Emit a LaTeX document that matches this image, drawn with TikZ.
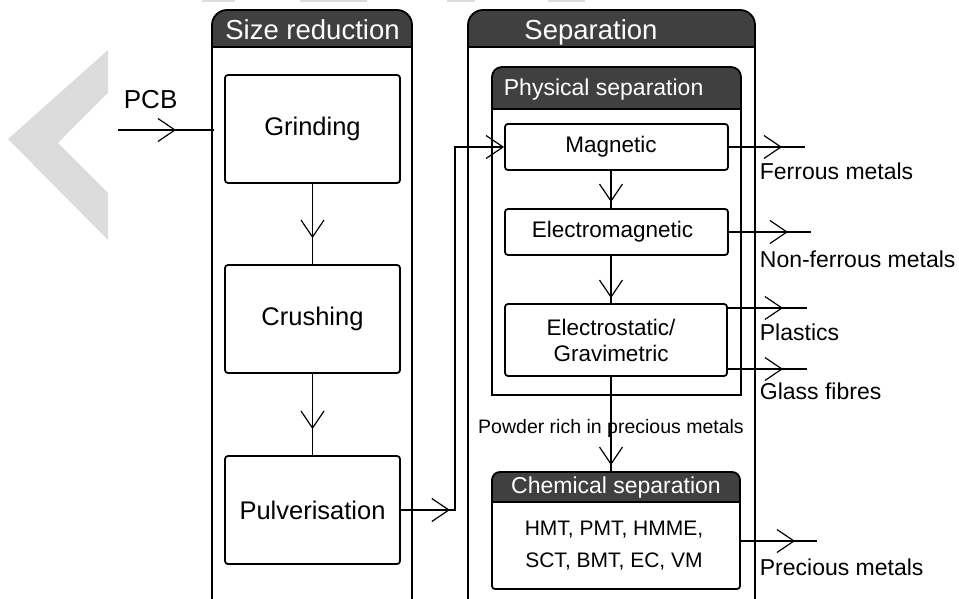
\documentclass[tikz,border=0pt]{standalone}
\usepackage{fontspec}
\setmainfont{Liberation Sans}
\usetikzlibrary{arrows.meta,decorations.markings}
\definecolor{hdr}{HTML}{404040}
\definecolor{wm}{HTML}{DCDCDC}
\begin{document}
\begin{tikzpicture}[x=1pt,y=-1pt,line width=1.8pt,
  box/.style={draw, rounded corners=3pt, inner sep=0pt, align=center},
  fbig/.style={font=\fontsize{25.5pt}{30pt}\selectfont},
  fmed/.style={font=\fontsize{22.5pt}{26pt}\selectfont},
  fhdr/.style={font=\fontsize{27.5pt}{32pt}\selectfont, text=white, inner sep=0pt, anchor=base},
  fhdrs/.style={font=\fontsize{23pt}{28pt}\selectfont, text=white, inner sep=0pt},
  lbl/.style={font=\fontsize{23pt}{28pt}\selectfont, inner sep=0pt, anchor=base west},
  tipat/.style={postaction={decorate, decoration={markings, mark=at position -#1 with {\arrow{Straight Barb[length=17pt,width=23pt,line width=1.2pt]}}}}},
  tipfrom/.style={postaction={decorate, decoration={markings, mark=at position #1 with {\arrow{Straight Barb[length=17pt,width=23pt,line width=1.2pt]}}}}},
  endbarb/.style={-{Straight Barb[length=17pt,width=23pt,line width=1.2pt]}}
]
\useasboundingbox (0,0) rectangle (959,599);

% watermark
\fill[wm] (108,50) -- (8,139) -- (108,240) -- (108,193) -- (58,143) -- (108,93) -- cycle;
\fill[wm] (202,0) rectangle (235,2.5);
\fill[wm] (300,0) rectangle (367,2.5);
\fill[wm] (447,0) rectangle (475,2.5);
\fill[wm] (548,0) rectangle (585,2.5);

% Size reduction container
\begin{scope}\clip (212,10) rectangle (412,47);\fill[hdr,rounded corners=15pt] (212,10) rectangle (412,80);\end{scope}
\draw[rounded corners=15pt] (212,600) -- (212,10) -- (412,10) -- (412,600);
\draw (212,47) -- (412,47);

% Separation container
\begin{scope}\clip (468,10) rectangle (755,47);\fill[hdr,rounded corners=15pt] (468,10) rectangle (755,80);\end{scope}
\draw[rounded corners=15pt] (468,600) -- (468,10) -- (755,10) -- (755,600);
\draw (468,47) -- (755,47);

% Physical separation container
\begin{scope}\clip (492,67) rectangle (741,109);\fill[hdr,rounded corners=10pt] (492,67) rectangle (741,130);\end{scope}
\draw[rounded corners=10pt] (492,395) -- (492,67) -- (741,67) -- (741,395);
\draw[line cap=rect] (492,395) -- (741,395);
\draw (492,109) -- (741,109);

% Chemical separation container
\begin{scope}\clip (492,472) rectangle (740,502);\fill[hdr,rounded corners=8pt] (492,472) rectangle (740,520);\end{scope}
\draw[rounded corners=8pt] (492,500) -- (492,472) -- (740,472) -- (740,500);
\draw[rounded corners=3pt] (492,490) -- (492,589) -- (740,589) -- (740,490);
\draw (492,502) -- (740,502);

% header texts
\node[fhdr] (srhd) at (312.5,40) {Size reduction};
\node[fhdr] (sephd) at (591,40) {Separation};
\node[fhdrs, anchor=base west] (phhd) at (503,96) {Physical separation};
\node[fhdrs, minimum width=248pt, minimum height=30pt] (chemhd) at (616,487) {};
\node[fhdrs, anchor=base] (chemtxt) at (616,493.5) {Chemical separation};

% process boxes
\node[box, fbig, minimum width=175pt, minimum height=108pt] (grind) at (312.5,129) {Grinding};
\node[box, fbig, minimum width=175pt, minimum height=108pt] (crush) at (312.5,319) {Crushing};
\node[box, fbig, minimum width=175pt, minimum height=108pt] (pulv) at (312.5,510) {Pulverisation};
\node[box, fmed, minimum width=223pt, minimum height=46pt] (mag) at (616.5,147) {Magnetic\hspace*{11pt}};
\node[box, fmed, minimum width=223pt, minimum height=46pt] (emag) at (616.5,232) {Electromagnetic\hspace*{8pt}};
\node[box, fmed, minimum width=222pt, minimum height=72pt] (estat) at (616,340) {Electrostatic/\hspace*{10pt}\\Gravimetric\hspace*{10pt}};
\node[inner sep=0pt, align=center, font=\fontsize{21pt}{32pt}\selectfont] (chembody) at (614,546) {HMT, PMT, HMME,\\SCT, BMT, EC, VM};

% labels
\node[lbl, font=\fontsize{26pt}{30pt}\selectfont] (pcb) at (123,109) {PCB};
\node[lbl] (lferr) at (759,180) {Ferrous metals};
\node[lbl] (lnferr) at (759,267) {Non-ferrous metals};
\node[lbl] (lplast) at (759,340) {Plastics};
\node[lbl] (lglass) at (759,399) {Glass fibres};
\node[lbl] (lprec) at (759,575) {Precious metals};

% coordinates for free ends
\coordinate (pcbin) at (118,130);
\coordinate (srl) at (214,130);
\coordinate (bendx) at (455,0);
\coordinate (ferr) at (805,147);
\coordinate (nferr) at (811,232);
\coordinate (plast) at (807,308);
\coordinate (glass) at (807,369);
\coordinate (prec) at (817,541);

% connectors
\draw[tipat=38pt] (pcbin) -- (srl);
\draw[tipat=26pt] (grind) -- (crush);
\draw[tipat=26pt] (crush) -- (pulv);
\draw[tipfrom=49pt, endbarb] (pulv.east) -- (pulv.east -| bendx) |- (mag.west);
\draw[tipat=6pt] ([xshift=-5.5pt]mag.south) -- ([xshift=-5.5pt]emag.north);
\draw[tipat=5pt] ([xshift=-5.5pt]emag.south) -- ([xshift=-5.5pt]emag.south |- estat.north);
\draw[tipat=6pt] ([xshift=-5pt]estat.south) -- ([xshift=-5pt]estat.south |- chemhd.north);
\node[inner sep=0pt, anchor=base, font=\fontsize{19.5pt}{22pt}\selectfont] (powder) at (611,433) {Powder rich in precious metals};
\draw[tipat=23pt] (mag.east) -- (ferr);
\draw[tipat=23pt] (emag.east) -- (nferr);
\draw[tipat=24pt] (estat.east |- plast) -- (plast);
\draw[tipat=24pt] (estat.east |- glass) -- (glass);
\draw[tipat=22pt] (chembody.east -| chemhd.east) ++(0,-5) -- (prec);
\end{tikzpicture}
\end{document}
